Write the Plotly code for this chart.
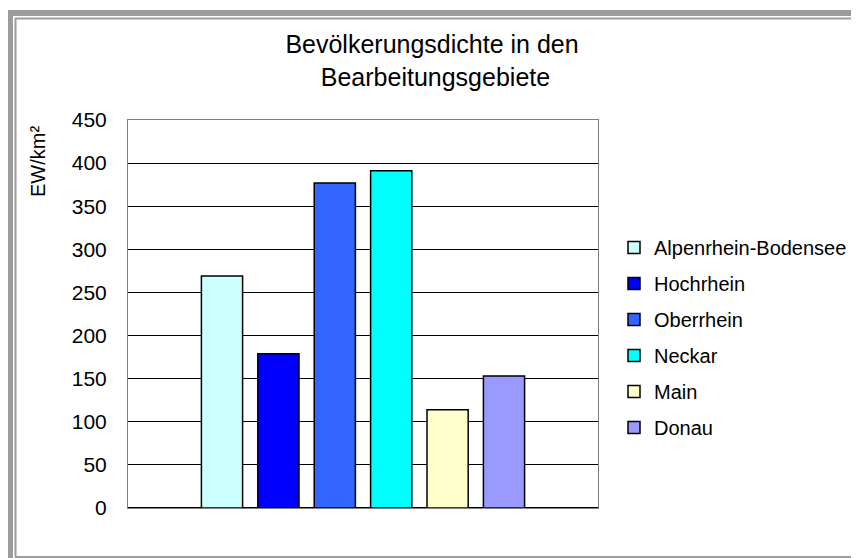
import plotly.graph_objects as go

# Bearbeitungsgebiete and their population density (EW/km²)
gebiete = ["Alpenrhein-Bodensee", "Hochrhein", "Oberrhein", "Neckar", "Main", "Donau"]
dichte = [269, 179, 377, 391, 114, 153]
farben = ["#CCFFFF", "#0000FF", "#3366FF", "#00FFFF", "#FFFFCC", "#9999FF"]
y_ticks = [0, 50, 100, 150, 200, 250, 300, 350, 400, 450]

FONT = "Liberation Sans, Arial, sans-serif"

# page is offset by the 8px body margin, so figure = page - 8
OFF = 8
W, H = 859 - OFF, 558 - OFF
# plot area in page pixels
L, R, T, B = 128, 598, 120, 508


def px_x(px):
    return (px - L) / (R - L)


def px_y(py):
    return (B - py) / (B - T)


fig = go.Figure()
for i, (name, val, col) in enumerate(zip(gebiete, dichte, farben)):
    fig.add_trace(go.Bar(
        x=["Gebiete"], y=[val], name=name,
        legendgroup=str(i),
        marker=dict(color=col, line=dict(color="#000000", width=1.5)),
    ))

# grey frame around the chart (like the Excel chart border)
frame = [
    dict(x0=px_x(10), x1=px_x(10), y0=px_y(10), y1=px_y(560), width=6),
    dict(x0=px_x(7), x1=px_x(870), y0=px_y(13), y1=px_y(13), width=6),
    dict(x0=px_x(15.5), x1=px_x(15.5), y0=px_y(18), y1=px_y(557), width=2),
    dict(x0=px_x(15), x1=px_x(870), y0=px_y(18.5), y1=px_y(18.5), width=2),
    dict(x0=px_x(15), x1=px_x(870), y0=px_y(557), y1=px_y(557), width=2),
]
for f in frame:
    fig.add_shape(type="line", xref="paper", yref="paper",
                  x0=f["x0"], x1=f["x1"], y0=f["y0"], y1=f["y1"],
                  line=dict(color="#9C9C9C", width=f["width"]))

fig.add_annotation(
    text="EW/km²", textangle=-90, showarrow=False,
    xref="paper", yref="paper", x=px_x(38), y=px_y(162),
    xanchor="center", yanchor="middle",
    font=dict(family=FONT, size=20, color="#000000"),
)

fig.update_layout(
    width=W, height=H,
    margin=dict(l=L - OFF, r=W - (R - OFF), t=T - OFF, b=H - (B - OFF),
                autoexpand=False),
    paper_bgcolor="#FFFFFF", plot_bgcolor="#FFFFFF",
    font=dict(family=FONT, color="#000000"),
    title=dict(
        text="Bevölkerungsdichte in den<br> Bearbeitungsgebiete",
        x=424 / W, xanchor="center", y=1 - 45 / H, yanchor="middle",
        font=dict(family=FONT, size=25, color="#000000"),
    ),
    barmode="group", bargap=0.28, bargroupgap=0.27,
    showlegend=True,
    legend=dict(
        x=px_x(614), y=px_y(228), xanchor="left", yanchor="top",
        font=dict(family=FONT, size=20, color="#000000"),
        tracegroupgap=7, bgcolor="rgba(0,0,0,0)",
    ),
    xaxis=dict(
        showticklabels=False, showgrid=False, ticks="",
        showline=True, mirror=True, linecolor="#808080", linewidth=1,
    ),
    yaxis=dict(
        range=[0, 450], tickvals=y_ticks, ticks="",
        ticklabelstandoff=16,
        tickfont=dict(family=FONT, size=21, color="#000000"),
        showgrid=True, gridcolor="#000000", gridwidth=1,
        zeroline=True, zerolinecolor="#000000", zerolinewidth=2,
        showline=True, mirror=True, linecolor="#808080", linewidth=1,
    ),
)

fig.write_html("out.html")
